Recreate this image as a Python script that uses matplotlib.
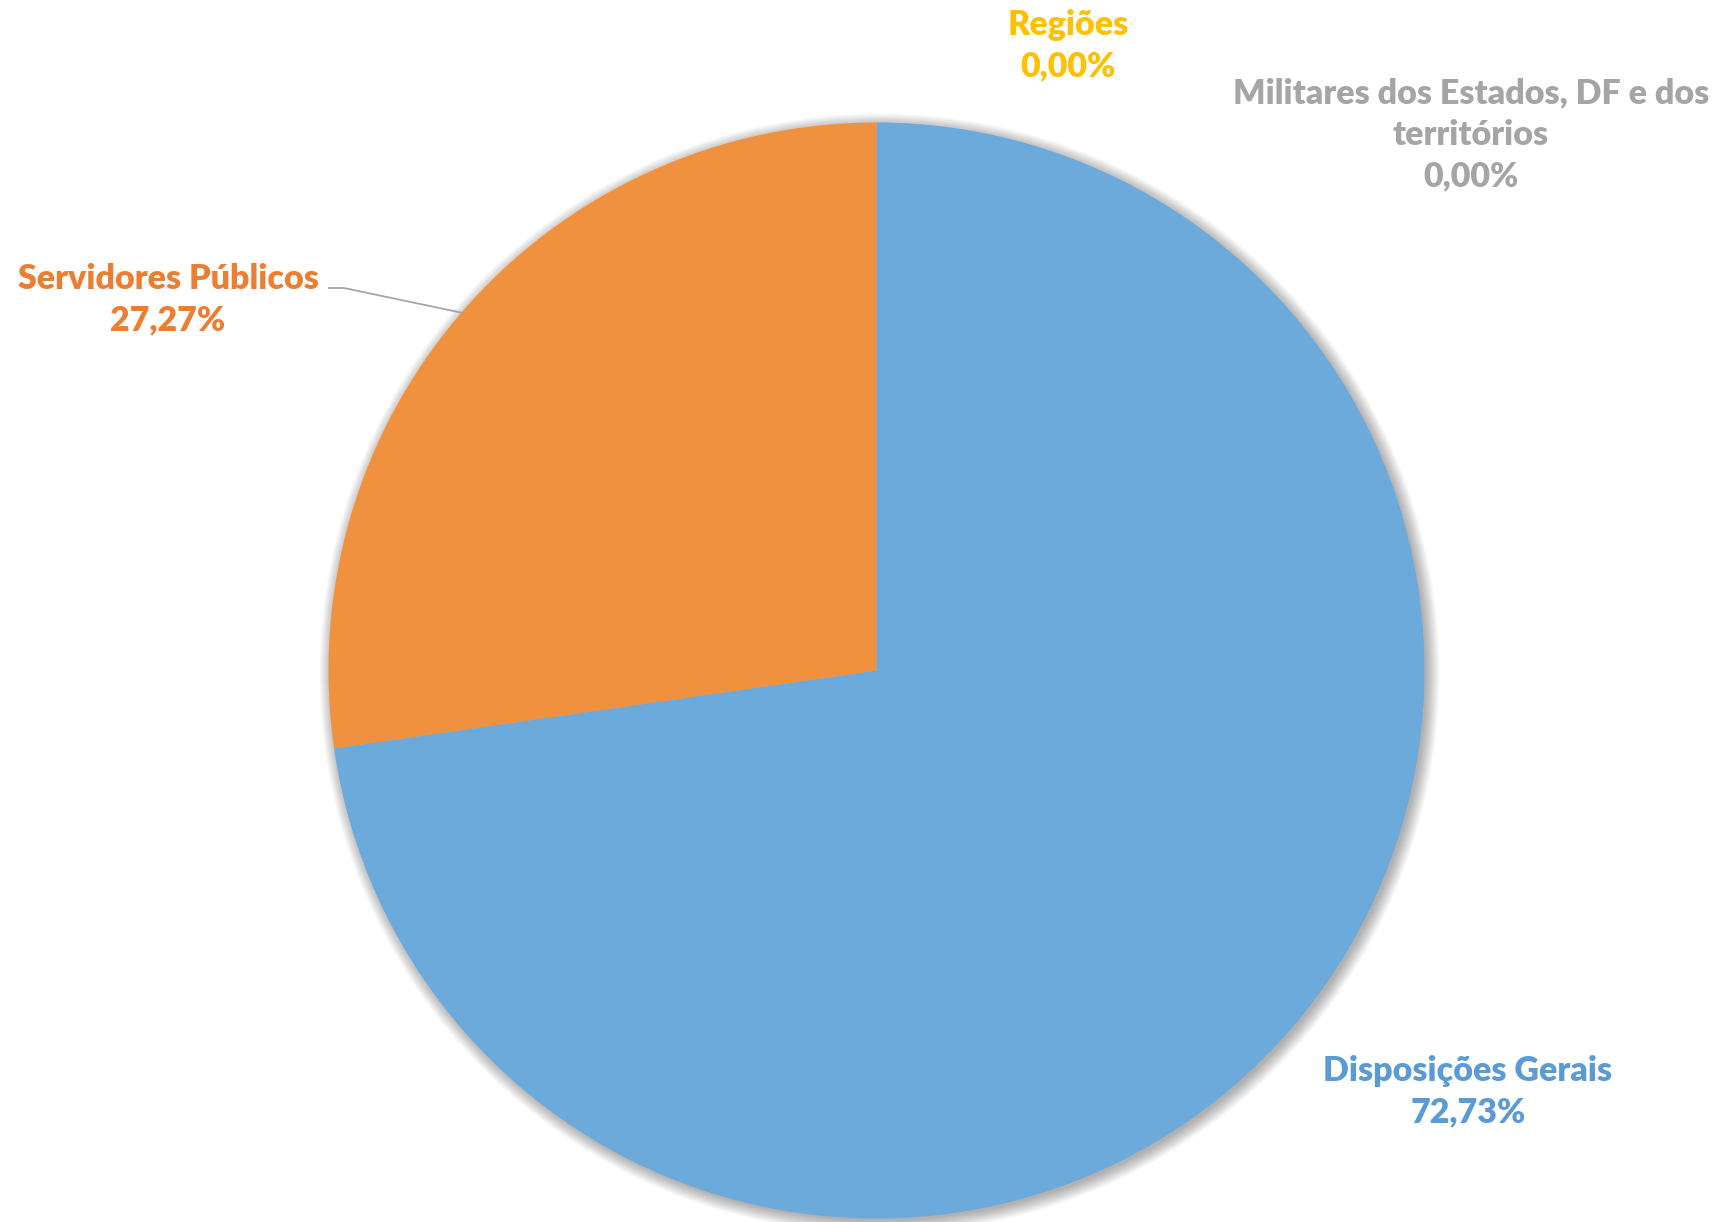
import matplotlib
matplotlib.use("Agg")
import matplotlib.pyplot as plt
from matplotlib.patches import Circle

# Share of provisions by subject
categories = ["Disposições Gerais", "Servidores Públicos", "Regiões",
              "Militares dos Estados, DF e dos\nterritórios"]
counts = [8, 3, 0, 0]

wedge_colors = ["#6BAADB", "#F09140", "#FFC000", "#A5A5A5"]
label_colors = ["#5B9BD5", "#ED7D31", "#FFC000", "#A5A5A5"]

W, H = 1721, 1222
fig = plt.figure(figsize=(W / 100, H / 100), dpi=100)
ax = fig.add_axes([0, 0, 1, 1])

cx, cy, r = 876.5, H - 670.5, 548

# soft drop shadow behind the pie
for i in range(14):
    ax.add_patch(Circle((cx + 3, cy - 3), r + 12 - i, facecolor="#000000",
                        alpha=0.022, edgecolor="none", zorder=0))

ax.pie(counts, colors=wedge_colors, startangle=90, counterclock=False,
       center=(cx, cy), radius=r, wedgeprops=dict(linewidth=0),
       frame=False)
for w in ax.patches[-len(counts):]:
    w.set_zorder(2)

ax.set_xlim(0, W)
ax.set_ylim(0, H)
ax.set_aspect("equal")
ax.axis("off")

total = sum(counts)
pcts = [100 * c / total for c in counts]
pct_text = [f"{p:.2f}%".replace(".", ",") for p in pcts]

label_pos = [(1468, 1092), (168, 300), (1068, 46), (1471, 135)]
font = dict(family=["Lato", "DejaVu Sans"], fontweight="heavy", fontsize=24.5)
for name, pt, (x, y), col in zip(categories, pct_text, label_pos, label_colors):
    ax.text(x, H - y, f"{name}\n{pt}", color=col, ha="center", va="center",
            linespacing=1.37, zorder=5, **font)

# leader line for the orange slice label
ax.plot([328, 344, 463], [H - 288, H - 288, H - 313], color="#A6A6A6",
        lw=1.3, zorder=4, solid_capstyle="butt")

fig.savefig("out.png", dpi=100, facecolor="white")
